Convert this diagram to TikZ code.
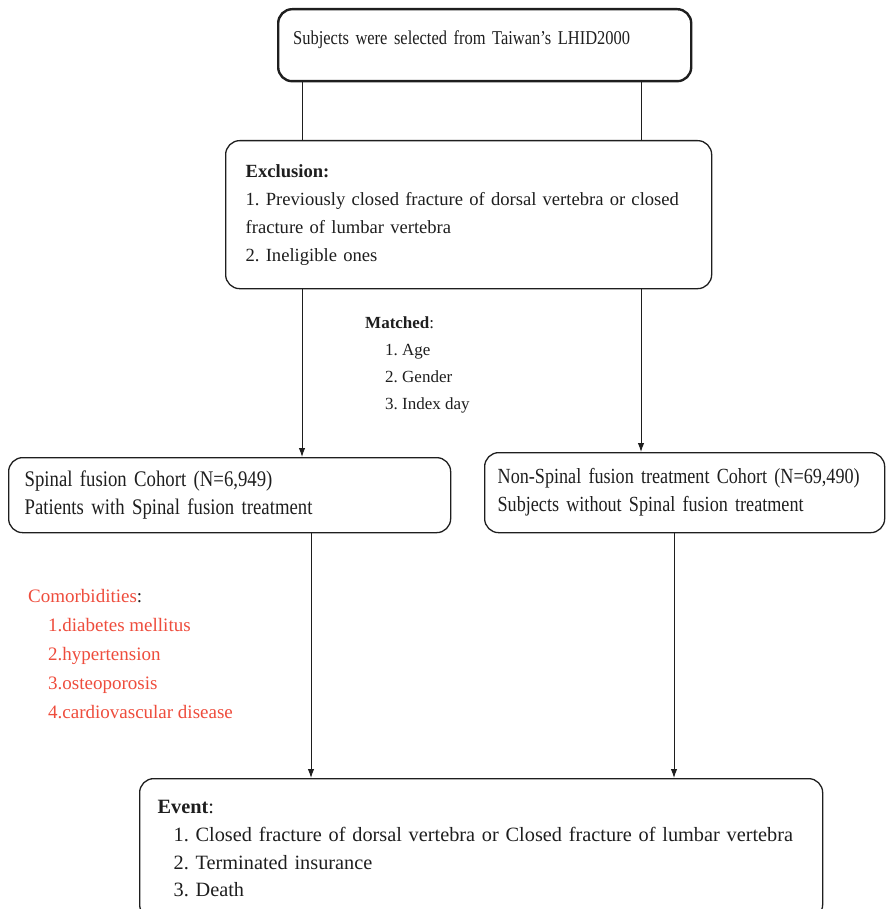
\documentclass[tikz,border=0pt]{standalone}
\usepackage{fontspec}
\setmainfont{Liberation Serif}
\newfontfamily\narrowserif[FakeStretch=0.84,Ligatures=TeX]{Liberation Serif}
\usetikzlibrary{arrows.meta}
\definecolor{ink}{HTML}{1E1E1E}
\definecolor{comred}{HTML}{EE4C3C}
\frenchspacing

\begin{document}
\begin{tikzpicture}[x=1pt,y=-1pt,
 box/.style={draw=ink,rounded corners=14pt,line width=1.3pt,anchor=north west,
 align=left,inner xsep=15pt,inner ysep=0pt,text=ink,
 font=\fontsize{18.6}{28}\selectfont},
 note/.style={anchor=north west,align=left,inner sep=0pt,text=ink,
 font=\fontsize{17}{27}\selectfont},
 link/.style={draw=ink,line width=1pt},
 arr/.style={link,-{Latex[length=9pt,width=6.5pt]}}]
\useasboundingbox (0,0) rectangle (893,909);
\clip (0,0) rectangle (893,909);
\node[box,line width=2.4pt,text width=383pt,minimum height=72pt,
 text depth=16pt,font=\narrowserif\fontsize{19.6}{28}\selectfont] (src) at (277,8)
 {Subjects were selected from Taiwan’s LHID2000};
\node[box,inner xsep=20pt,text width=446pt,minimum height=148pt] (excl) at (225,140)
 {\textbf{Exclusion:}\\
 1. Previously closed fracture of dorsal vertebra or closed\\
 fracture of lumbar vertebra\\
 2. Ineligible ones};
\node[note] (match) at (365,317)
 {\textbf{Matched}:\\
 \hspace*{20pt}1. Age\\
 \hspace*{20pt}2. Gender\\
 \hspace*{20pt}3. Index day};
\node[box,inner xsep=16pt,text width=410pt,minimum height=75pt,
 font=\narrowserif\fontsize{22.3}{28}\selectfont] (sf) at (8,457)
 {Spinal fusion Cohort (N=6,949)\\
 Patients with Spinal fusion treatment};
\node[box,inner xsep=13pt,text width=374pt,minimum height=80pt,
 font=\narrowserif\fontsize{21.6}{28}\selectfont] (nsf) at (484,452)
 {Non-Spinal fusion treatment Cohort (N=69,490)\\
 Subjects without Spinal fusion treatment};
\node[note,text=comred,font=\fontsize{19}{29}\selectfont] (comorb) at (28,589)
 {Comorbidities\textcolor{ink}{:}\\
 \hspace*{20pt}1.diabetes mellitus\\
 \hspace*{20pt}2.hypertension\\
 \hspace*{20pt}3.osteoporosis\\
 \hspace*{20pt}4.cardiovascular disease};
\node[box,inner xsep=18pt,text width=647pt,minimum height=140pt,
 font=\fontsize{20.3}{27.7}\selectfont] (event) at (139,778)
 {\textbf{Event}:\\
 \hspace*{16pt}1. Closed fracture of dorsal vertebra or Closed fracture of lumbar vertebra\\
 \hspace*{16pt}2. Terminated insurance\\
 \hspace*{16pt}3. Death};
% vertical guides for the connectors
\coordinate (l1) at (302,0);
\coordinate (r1) at (641,0);
\coordinate (l2) at (311,0);
\coordinate (r2) at (674,0);
\foreach \c in {l1,r1}{
 \draw[link] (src.south -| \c) -- (excl.north -| \c);}
\draw[arr] (excl.south -| l1) -- (sf.north -| l1);
\draw[arr] (excl.south -| r1) -- (nsf.north -| r1);
\draw[arr] (sf.south -| l2) -- (event.north -| l2);
\draw[arr] (nsf.south -| r2) -- (event.north -| r2);
\end{tikzpicture}
\end{document}
